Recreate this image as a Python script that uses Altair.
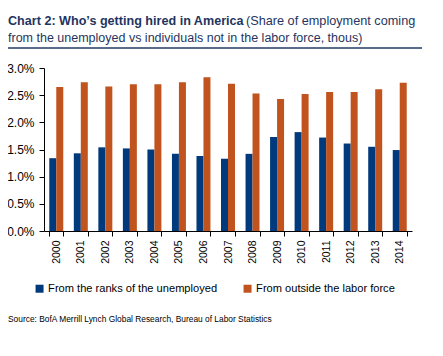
import altair as alt
import pandas as pd

years = [str(y) for y in range(2000, 2015)]
unemployed = [1.34, 1.43, 1.54, 1.52, 1.50, 1.42, 1.38, 1.33, 1.42, 1.73, 1.82, 1.72, 1.61, 1.55, 1.49]
outside = [2.65, 2.74, 2.66, 2.70, 2.70, 2.74, 2.83, 2.71, 2.53, 2.43, 2.52, 2.56, 2.56, 2.61, 2.73]
series_names = ["From the ranks of the unemployed", "From outside the labor force"]
colors = ["#003A7D", "#C0531E"]

title_bold = "Chart 2: Who\u2019s getting hired in America"
title_rest1 = "(Share of employment coming"
title_line2 = "from the unemployed vs individuals not in the labor force, thous)"
source = "Source: BofA Merrill Lynch Global Research, Bureau of Labor Statistics"

FONT = "Liberation Sans, Arial"

rows = []
for i, y in enumerate(years):
    rows.append({"year": y, "series": series_names[0], "value": unemployed[i] / 100})
    rows.append({"year": y, "series": series_names[1], "value": outside[i] / 100})
df = pd.DataFrame(rows)

W, H = 368, 163

bars = alt.Chart(df).mark_bar().encode(
    x=alt.X("year:N", sort=years, title=None,
            scale=alt.Scale(paddingInner=0.43, paddingOuter=0.215),
            axis=alt.Axis(labelAngle=-90, tickBand="extent", tickSize=5, labelPadding=4,
                          domainColor="#000000", tickColor="#000000", labelFont=FONT,
                          labelFontSize=10.5, labelColor="#000000")),
    xOffset=alt.XOffset("series:N", sort=series_names, scale=alt.Scale(paddingInner=0, paddingOuter=0)),
    y=alt.Y("value:Q", title=None,
            scale=alt.Scale(domain=[0, 0.03]),
            axis=alt.Axis(format=".1%", values=[0, 0.005, 0.01, 0.015, 0.02, 0.025, 0.03], grid=False,
                          tickSize=5, labelPadding=5, domainColor="#000000", tickColor="#000000",
                          labelFont=FONT, labelFontSize=12, labelColor="#000000")),
    color=alt.Color("series:N", sort=series_names,
                    scale=alt.Scale(domain=series_names, range=colors),
                    legend=alt.Legend(orient="none", legendX=-10, legendY=215, direction="horizontal",
                                      title=None, symbolType="square", symbolSize=64, symbolStrokeWidth=0,
                                      labelFont=FONT, labelFontSize=11.1, labelColor="#000000",
                                      labelLimit=400, columnPadding=24, labelOffset=3, padding=0,
                                      columns=2)),
)

def txt(text, x, y, size, bold=False, color="#000000"):
    return alt.Chart(pd.DataFrame({"t": [text]})).mark_text(
        align="left", baseline="alphabetic", font=FONT, fontSize=size,
        fontWeight="bold" if bold else "normal", color=color
    ).encode(text="t:N", x=alt.value(x), y=alt.value(y))

t1 = txt(title_bold, -36, -43, 12.6, bold=True, color="#1F3560")
t2 = txt(title_rest1, 202, -43, 12.7, color="#1F3560")
t3 = txt(title_line2, -36, -26, 12.5, color="#1F3560")
src = txt(source, -36, 254, 8.4)

rule = alt.Chart(pd.DataFrame({"a": [0]})).mark_rule(color="#5B6B8C", strokeWidth=2).encode(
    x=alt.value(-36), x2=alt.value(382), y=alt.value(-20)
)

chart = alt.layer(bars, t1, t2, t3, src, rule).properties(
    width=W, height=H,
    autosize=alt.AutoSizeParams(type="none"),
    padding={"left": 36, "top": 60, "right": 10, "bottom": 110},
).configure_view(stroke=None)

chart.save("out.html", embed_options={"renderer": "svg", "actions": False})
